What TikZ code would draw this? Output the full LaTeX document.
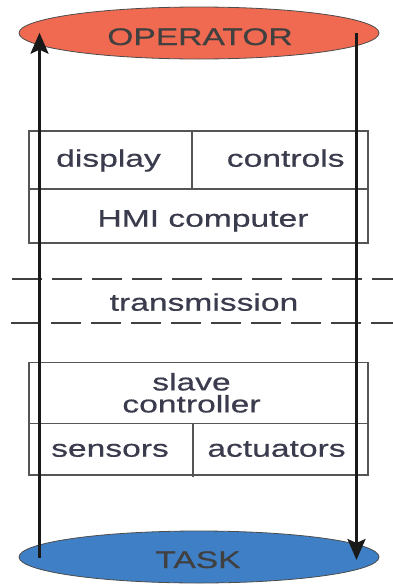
\documentclass[tikz,border=0pt]{standalone}
\usepackage{fontspec}
\setmainfont[FakeStretch=1.40,FakeBold=0.6]{Liberation Sans}
\usetikzlibrary{shapes.geometric,arrows.meta}
\definecolor{opfill}{HTML}{EF6A50}
\definecolor{taskfill}{HTML}{3F7FC6}
\definecolor{txt}{HTML}{3A3B4C}
\definecolor{edge}{HTML}{555555}
\begin{document}
\begin{tikzpicture}[x=1pt,y=-1pt,
  lbl/.style={font=\fontsize{24}{22}\selectfont, text=txt, inner sep=0pt, anchor=base},
  cell/.style={draw=edge, line width=1.3pt},
  dashline/.style={draw=black!75, line width=1.6pt, dash pattern=on 30pt off 10pt},
  flow/.style={draw=black!90, line width=2.8pt, -{Stealth[length=21pt,width=18pt,inset=4pt]}},
  oval/.style={ellipse, draw=black!70, line width=0.8pt, minimum width=360pt, minimum height=52pt, inner sep=0pt}]
\useasboundingbox (0,0) rectangle (393,584);
% end ellipses
\node[oval, fill=opfill] (operator) at (199,33) {};
\node[oval, fill=taskfill] (task) at (199,557) {};
\node[lbl, text=black!75] (optext) at (200,45) {OPERATOR};
\node[lbl, text=black!75] (tasktext) at (198,568) {TASK};
% upper block
\draw[cell] (29,131) rectangle (368,243);
\draw[cell] (29,189) -- (368,189);
\draw[cell] (192,131) -- (192,189);
\node[lbl] (display) at (108.5,166.7) {display};
\node[lbl] (controls) at (285.7,166.7) {controls};
\node[lbl] (hmi) at (203,226.7) {HMI computer};
% transmission
\draw[dashline] (12,279) -- (393,279);
\draw[dashline] (11,323) -- (393,323);
\node[lbl] (trans) at (204,310.7) {transmission};
% lower block
\draw[cell] (29,362.5) rectangle (368,475);
\draw[cell] (29,423.5) -- (368,423.5);
\draw[cell] (193,423.5) -- (193,477);
\node[lbl, anchor=north, align=center] (slave) at (191.5,372.8) {slave\\controller};
\node[lbl] (sensors) at (110,456.7) {sensors};
\node[lbl] (actuators) at (276.5,456.7) {actuators};
% flows
\coordinate (lstart) at (39.5,558);
\coordinate (ltip) at (39.5,32.7);
\coordinate (rstart) at (356.5,33);
\coordinate (rtip) at (356.5,560);
\draw[flow] (lstart) -- (ltip);
\draw[flow] (rstart) -- (rtip);
\end{tikzpicture}
\end{document}
